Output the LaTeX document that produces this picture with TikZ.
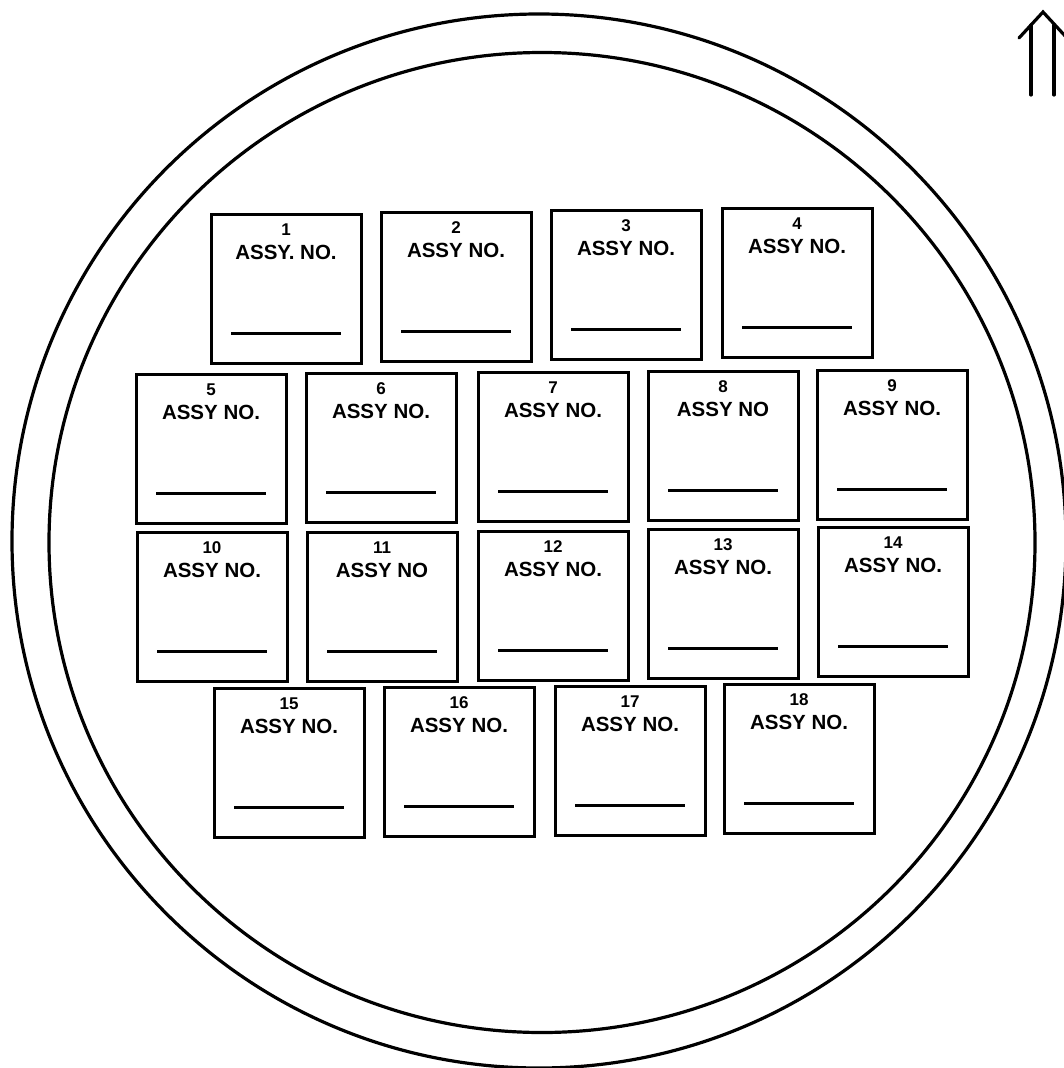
\documentclass[tikz,border=0pt]{standalone}
\usepackage{fontspec}
\setmainfont{Liberation Sans}
\begin{document}
\begin{tikzpicture}[x=1pt,y=-1pt,
  ring/.style={line width=3.2pt},
  slot/.style={draw,line width=3pt,minimum width=150pt,minimum height=149pt,inner sep=0pt},
  slotnum/.style={font=\bfseries\fontsize{17}{19}\selectfont,inner sep=0pt,anchor=base},
  slottag/.style={font=\bfseries\fontsize{20.5}{24}\selectfont,inner sep=0pt,anchor=base},
  blank/.style={line width=2.5pt}]
\useasboundingbox (0,0) rectangle (1064,1068);
\clip (0,0) rectangle (1064,1068);

% vessel outline: outer and inner rings
\draw[ring] (539,541) circle[radius=527];
\draw[ring] (542,542.5) ellipse[x radius=493,y radius=490];

% orientation arrow (open double arrow pointing up)
\coordinate (tip) at (1043,12);
\coordinate (wl) at (1019,38);
\coordinate (wr) at (1067,38);
\draw[ring,line cap=round,line join=miter] (wl) -- (tip) -- (wr);
\draw[ring,line cap=round] (1031,25) -- (1031,95);
\draw[ring,line cap=round] (1054,25) -- (1054,95);

% assembly slots: number, label and blank line for the assembly number
\foreach \n/\x/\y/\t in {
  1/286/289/ASSY. NO., 2/456/287/ASSY NO., 3/626/285/ASSY NO., 4/797/283/ASSY NO.,
  5/211/449/ASSY NO., 6/381/448/ASSY NO., 7/553/447/ASSY NO., 8/723/446/ASSY NO,
  9/892/445/ASSY NO.,
  10/212/607/ASSY NO., 11/382/607/ASSY NO, 12/553/606/ASSY NO., 13/723/604/ASSY NO.,
  14/893/602/ASSY NO.,
  15/289/763/ASSY NO., 16/459/762/ASSY NO., 17/630/761/ASSY NO., 18/799/759/ASSY NO.} {
  \node[slot] (b\n) at (\x,\y) {};
  \path (b\n.north) ++(0,22.5) node[slotnum] (n\n) {\n};
  \path (b\n.north) ++(0,46.5) node[slottag] (t\n) {\t};
  \draw[blank] (b\n.north) ++(-55,120.5) coordinate (u\n) -- ++(110,0);
}
\end{tikzpicture}
\end{document}
